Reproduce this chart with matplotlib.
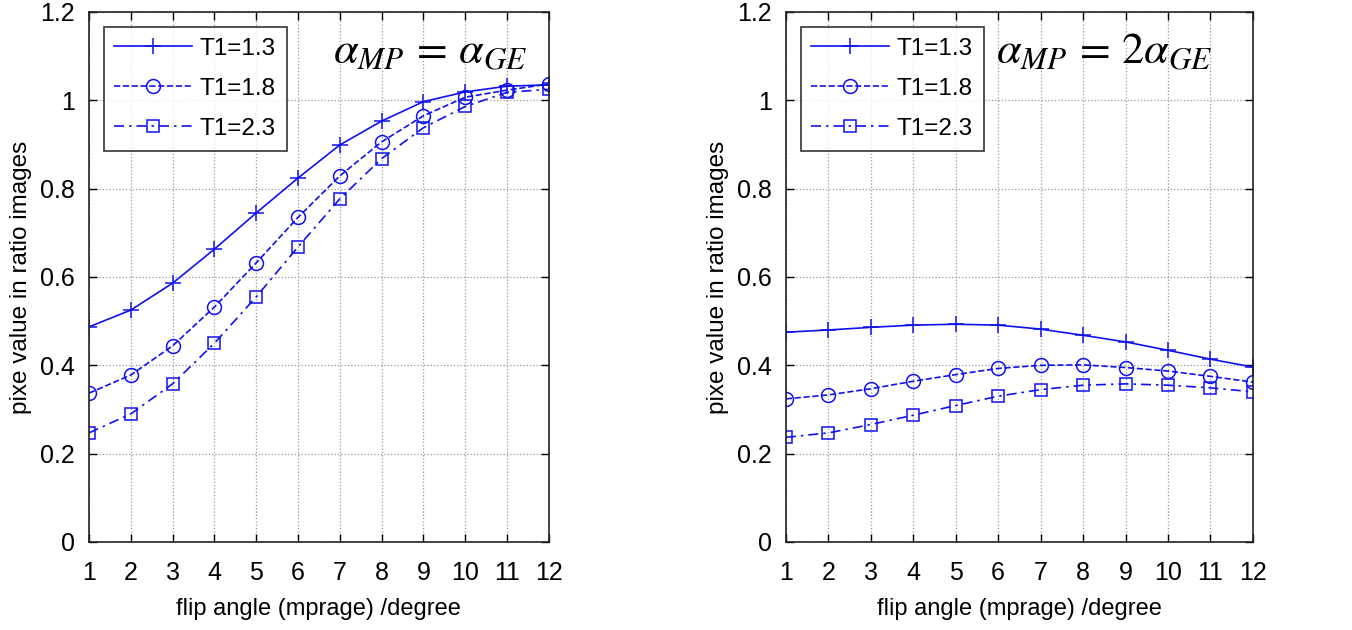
import matplotlib
matplotlib.use("Agg")
import matplotlib.pyplot as plt

plt.rcParams['font.family'] = ['Liberation Sans', 'DejaVu Sans']
plt.rcParams['mathtext.fontset'] = 'stix'

# flip angle
angles = [1, 2, 3, 4, 5, 6, 7, 8, 9, 10, 11, 12]
labels = ['T1=1.3', 'T1=1.8', 'T1=2.3']

# alpha_MP = alpha_GE
left_t13 = [0.487, 0.525, 0.586, 0.663, 0.745, 0.824, 0.899, 0.953, 0.997, 1.019, 1.032, 1.035]
left_t18 = [0.337, 0.378, 0.444, 0.532, 0.632, 0.735, 0.829, 0.906, 0.965, 1.007, 1.023, 1.037]
left_t23 = [0.247, 0.290, 0.358, 0.450, 0.555, 0.668, 0.777, 0.868, 0.938, 0.986, 1.018, 1.025]

# alpha_MP = 2 alpha_GE
right_t13 = [0.475, 0.480, 0.486, 0.491, 0.493, 0.491, 0.482, 0.468, 0.453, 0.434, 0.414, 0.396]
right_t18 = [0.324, 0.333, 0.347, 0.364, 0.379, 0.393, 0.400, 0.401, 0.395, 0.387, 0.375, 0.362]
right_t23 = [0.237, 0.247, 0.266, 0.287, 0.309, 0.330, 0.345, 0.355, 0.358, 0.355, 0.349, 0.340]

col = '#1010f0'
styles = [('-', '+', 11), ('--', 'o', 10), ((0, (6, 3, 1.5, 3)), 's', 8)]

fig = plt.figure(figsize=(13.52, 6.30), dpi=100)
ax1 = fig.add_axes([0.0658, 0.1397, 0.3402, 0.8413])
ax2 = fig.add_axes([0.5813, 0.1397, 0.3454, 0.8413])

def draw(ax, series, title, tx):
    for ys, lab, (ls, mk, ms) in zip(series, labels, styles):
        ax.plot(angles, ys, linestyle=ls, marker=mk, markersize=ms, color=col,
                markerfacecolor='none', markeredgecolor=col, linewidth=1.2,
                markeredgewidth=1.1, label=lab)
    ax.set_xlim(1, 12)
    ax.set_ylim(0, 1.2)
    ax.set_xticks(angles)
    ax.set_yticks([0, 0.2, 0.4, 0.6, 0.8, 1, 1.2])
    ax.set_yticklabels(['0', '0.2', '0.4', '0.6', '0.8', '1', '1.2'])
    ax.grid(True, linestyle=':', color='#999999', linewidth=0.9)
    ax.tick_params(direction='in', top=True, right=True, labelsize=18, length=6, width=1)
    ax.tick_params(axis='x', pad=14)
    ax.tick_params(axis='y', pad=10)
    for s in ax.spines.values():
        s.set_linewidth(1.2)
        s.set_color('#222222')
    ax.set_xlabel('flip angle (mprage) /degree', fontsize=17, labelpad=9)
    ax.set_ylabel('pixe value in ratio images', fontsize=17.5, labelpad=6)
    leg = ax.legend(loc='upper left', fontsize=17.5, handlelength=3.2, frameon=True,
                    fancybox=False, edgecolor='black', borderpad=0.45,
                    labelspacing=0.75, handletextpad=0.3, borderaxespad=0.6)
    leg.get_frame().set_linewidth(1.2)
    ax.text(tx, 0.925, title, transform=ax.transAxes, fontsize=32,
            ha='left', va='center')

draw(ax1, [left_t13, left_t18, left_t23], r'$\alpha_{MP}\,=\,\alpha_{GE}$', 0.53)
draw(ax2, [right_t13, right_t18, right_t23], r'$\alpha_{MP}\,=\,2\alpha_{GE}$', 0.45)

fig.savefig('out.png', dpi=100)
